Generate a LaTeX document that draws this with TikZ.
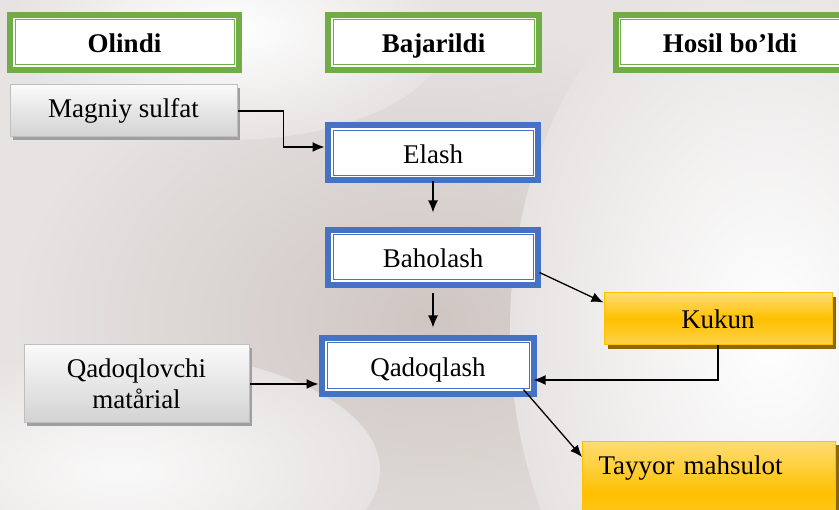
\documentclass[tikz,border=0pt]{standalone}
\usepackage{fontspec}
\setmainfont{Liberation Serif}
\usetikzlibrary{arrows.meta,shadows}
\definecolor{headgreen}{HTML}{70AD47}
\definecolor{stepblue}{HTML}{4472C4}
\definecolor{resgold}{HTML}{FFC000}
\definecolor{resshadow}{HTML}{8C6A00}
\definecolor{bgbase}{HTML}{E6E3E2}
\definecolor{bgdark}{HTML}{CFC6C2}
\begin{document}
\begin{tikzpicture}[x=1pt,y=-1pt,>={Latex[length=12pt,width=10pt]},font=\fontsize{27}{31}\selectfont]
\tikzstyle{framed}=[rectangle,fill=white,draw=#1,line width=1pt,preaction={draw=#1,line width=6pt,double=white,double distance=4pt},text height=22pt,text depth=1pt]
\tikzstyle{head}=[framed=headgreen,font=\fontsize{27}{31}\selectfont\bfseries,minimum width=219pt,minimum height=45pt]
\tikzstyle{stepbox}=[framed=stepblue,minimum width=200pt,minimum height=45pt]
\tikzstyle{inbox}=[rectangle,draw=gray!50,line width=1pt,top color=gray!4,bottom color=gray!35,drop shadow={shadow xshift=3pt,shadow yshift=-3pt,fill=gray!75,opacity=1},align=center]
\tikzstyle{outbox}=[rectangle,draw=resgold,line width=1pt,top color=resgold!55,bottom color=resgold!70,middle color=resgold,drop shadow={shadow xshift=4pt,shadow yshift=-4pt,fill=resshadow,opacity=1}]
\tikzstyle{flow}=[->,line width=1.3pt]

\path[use as bounding box] (0,0) rectangle (839,510);
\clip (0,0) rectangle (839,510);
% background photo, roughly
\fill[bgbase] (0,0) rectangle (839,510);
\shade[inner color=bgdark,outer color=bgbase] (430,320) ellipse (420 and 300);
\shade[inner color=white,outer color=bgbase] (770,330) ellipse (260 and 380);
\shade[inner color=white,outer color=bgbase] (230,30) ellipse (220 and 110);
\shade[inner color=white!80!bgbase,outer color=bgbase] (120,470) ellipse (260 and 120);

% column heads
\node[head] (olindi) at (124.5,42.5) {Olindi};
\node[head,minimum width=201pt] (bajarildi) at (433.5,42.5) {Bajarildi};
\node[head] (hosil) at (730,42.5) {Hosil bo’ldi};

% steps
\node[stepbox] (elash) at (433,153) {Elash};
\node[stepbox] (baholash) at (433,257.5) {Baholash};
\node[stepbox,minimum width=202pt,minimum height=46pt] (qadoq) at (428,366) {Qadoqlash};

% inputs and results
\node[inbox,minimum width=227pt,minimum height=52pt] (magniy) at (123.5,111) {Magniy sulfat};
\node[inbox,minimum width=225pt,minimum height=78pt] (qadoqlovchi) at (136.5,384) {Qadoqlovchi\\matårial};
\node[outbox,minimum width=228pt,minimum height=52pt] (kukun) at (718,319) {Kukun};
\node[outbox,anchor=north west,text width=221pt,inner xsep=16pt,inner ysep=14pt,text height=19pt,text depth=58pt,align=left] (tayyor) at (582,441) {Tayyor mahsulot};

\draw[flow,shorten >=8pt] (magniy.east) -- ++(46,0) |- ([yshift=6pt]elash.west);
\draw[flow,shorten <=5pt,shorten >=22pt] (elash.south) -- (elash.south |- baholash.north);
\draw[flow,shorten <=13pt,shorten >=15pt] (baholash.south) -- (baholash.south |- qadoq.north);
\draw[flow] ([xshift=6pt,yshift=-15pt]baholash.east) -- ([yshift=-10pt]kukun.north west);
\draw[flow,shorten >=4pt] (kukun.south) |- ([yshift=-14pt]qadoq.east);
\draw[flow,shorten >=8pt] (qadoqlovchi.east) -- (qadoqlovchi.east -| qadoq.west);
\draw[flow] ([xshift=-6pt]qadoq.south east) -- ([yshift=-16pt]tayyor.north west);

\end{tikzpicture}
\end{document}
